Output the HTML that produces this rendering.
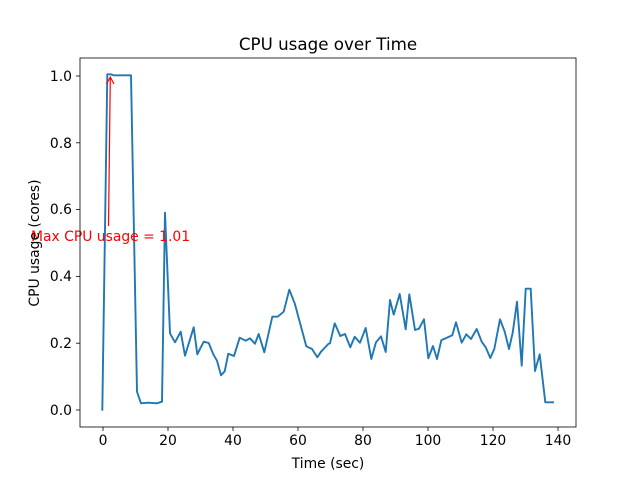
<!DOCTYPE html>
<html><head><style>body{margin:0;background:#fff}svg{display:block}</style></head><body>
<svg width="640" height="480" xmlns="http://www.w3.org/2000/svg" font-family="DejaVu Sans, sans-serif">
<rect width="640" height="480" fill="#fff"/>
<polyline fill="none" stroke="#1f77b4" stroke-width="1.9" stroke-linejoin="round" points="102.3,410.7 107.3,74.3 110.7,74.3 113.3,75.3 131,75.3 137,391.7 141,403.3 148.3,402.7 156.7,403.3 162,401.7 165,212.7 170,333.3 175,342.3 180.7,331.7 185,355.7 193.7,327.3 197.3,354.3 203.7,341.7 208.7,343 213.3,354.3 217,360.7 221,375.3 224.7,371.3 228.3,353.7 234,356 239.7,337.7 245.7,340.7 250,338.3 255,343.7 258.7,334 264.3,352.3 272.3,316.7 277.7,316.7 283.7,311.7 289.3,289.7 294.7,303.3 306.3,346.3 312,349 317.3,357.3 321,351.7 328.3,344 330,343.3 334.7,323.3 340.3,336 345,334 350.3,347.3 354.7,336.7 360,342.7 365.7,328 371.3,359 376,342.3 381,336.3 385.7,352 390,300 393.7,314.7 399.7,294 405.7,329.3 409.3,294.3 415,330 419,328.7 424,319.3 428.3,358.3 433,346 437,359 441.3,340.3 452.3,335.3 456,322.3 461.7,342.7 466.3,334.3 471,339 476.7,329 481.7,341.7 485.7,347.3 490.3,358 494.3,349 500,319.3 504.7,331.7 509,349 512.7,332.7 517,301.7 521.7,365.7 525.7,288.7 530.7,288.7 535,371 539.7,354.3 545.3,402.3 554,402.3"/>
<line x1="108.5" y1="226" x2="110.3" y2="77" stroke="red" stroke-width="1.2"/>
<polyline points="106.5,84 110.3,77 114,84" fill="none" stroke="red" stroke-width="1.2"/>
<text x="31" y="241" font-size="13.9" fill="red">Max CPU usage = 1.01</text>
<rect x="80" y="58" width="496" height="369" fill="none" stroke="#000" stroke-width="0.8"/>
<g stroke="#000" stroke-width="0.8">
<line x1="103" y1="427" x2="103" y2="431"/><line x1="168" y1="427" x2="168" y2="431"/><line x1="233" y1="427" x2="233" y2="431"/><line x1="298" y1="427" x2="298" y2="431"/><line x1="363" y1="427" x2="363" y2="431"/><line x1="428" y1="427" x2="428" y2="431"/><line x1="493" y1="427" x2="493" y2="431"/><line x1="558" y1="427" x2="558" y2="431"/>
<line x1="76" y1="410" x2="80" y2="410"/><line x1="76" y1="343.2" x2="80" y2="343.2"/><line x1="76" y1="276.4" x2="80" y2="276.4"/><line x1="76" y1="209.6" x2="80" y2="209.6"/><line x1="76" y1="142.8" x2="80" y2="142.8"/><line x1="76" y1="76" x2="80" y2="76"/>
</g>
<g font-size="13.9" text-anchor="middle" fill="#000">
<text x="103" y="445">0</text><text x="168" y="445">20</text><text x="233" y="445">40</text><text x="298" y="445">60</text><text x="363" y="445">80</text><text x="428" y="445">100</text><text x="493" y="445">120</text><text x="558" y="445">140</text>
</g>
<g font-size="13.9" text-anchor="end" fill="#000">
<text x="72" y="415">0.0</text><text x="72" y="348">0.2</text><text x="72" y="281">0.4</text><text x="72" y="214">0.6</text><text x="72" y="148">0.8</text><text x="72" y="81">1.0</text>
</g>
<text x="328" y="468" font-size="13.9" text-anchor="middle">Time (sec)</text>
<text x="0" y="0" font-size="13.9" text-anchor="middle" transform="translate(39,243) rotate(-90)">CPU usage (cores)</text>
<text x="328" y="50" font-size="16.7" text-anchor="middle">CPU usage over Time</text>
</svg>
</body></html>
